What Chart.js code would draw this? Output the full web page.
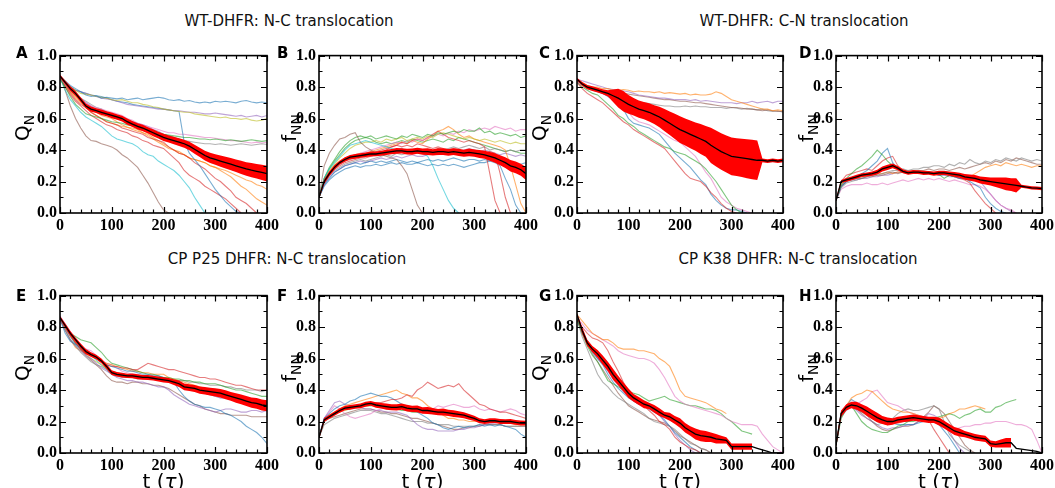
<!DOCTYPE html>
<html>
<head>
<meta charset="utf-8">
<script src="https://cdn.jsdelivr.net/npm/chart.js@4.4.1/dist/chart.umd.min.js"></script>
<style>
  body { margin: 0; background: #fff; width: 1055px; height: 488px; overflow: hidden; position: relative; }
  canvas { position: absolute; }
  .title { position: absolute; font: 15px "DejaVu Sans", sans-serif; color: #111; white-space: nowrap; transform: translateX(-50%); line-height: 1; }
  .letter { position: absolute; font: bold 15px "DejaVu Sans", sans-serif; line-height: 1; }
  .ylab { position: absolute; font: 20px "DejaVu Sans", sans-serif; white-space: nowrap; transform: translate(-50%, -50%) rotate(-90deg); line-height: 1; }
  .ylab sub { font-size: 14px; }
  .xlab { position: absolute; font: 20px "DejaVu Sans", sans-serif; white-space: nowrap; transform: translateX(-50%); line-height: 1; }
</style>
</head>
<body>
<script>
// time grid (tau)
const T = [0,10,20,30,40,50,60,70,80,90,100,110,120,130,140,150,160,170,180,190,200,
  210,220,230,240,250,260,270,280,290,300,310,320,330,340,350,360,370,380,390,400];

const titles = ["WT-DHFR: N-C translocation", "WT-DHFR: C-N translocation",
  "CP P25 DHFR: N-C translocation", "CP K38 DHFR: N-C translocation"];
const xTicks = [0, 100, 200, 300, 400];
const yTicks = [0.0, 0.2, 0.4, 0.6, 0.8, 1.0];

// ---- panel A : Q_N, WT N-C
const meanA = [0.87,0.83,0.79,0.76,0.72,0.68,0.66,0.65,0.64,0.63,0.62,0.61,0.60,0.58,0.565,0.55,0.54,0.525,0.51,0.495,0.48,0.47,0.46,0.45,0.44,0.425,0.405,0.385,0.365,0.35,0.34,0.33,0.32,0.31,0.30,0.29,0.28,0.272,0.265,0.258,0.25];
const errA = [0.01,0.012,0.015,0.015,0.015,0.015,0.016,0.015,0.017,0.016,0.018,0.017,0.018,0.02,0.019,0.02,0.021,0.02,0.022,0.021,0.023,0.022,0.024,0.025,0.026,0.027,0.028,0.03,0.031,0.033,0.034,0.036,0.037,0.039,0.04,0.042,0.043,0.045,0.046,0.048,0.05];
const aBlue1 = [0.87,0.84,0.81,0.79,0.77,0.75,0.74,0.745,0.73,0.735,0.73,0.725,0.73,0.72,0.725,0.73,0.72,0.725,0.73,0.735,0.73,0.72,0.715,0.72,0.71,0.715,0.705,0.70,0.705,0.70,0.71,0.705,0.71,0.705,0.70,0.71,0.715,0.705,0.70,0.705,0.70];
const aOlive = [0.86,0.83,0.80,0.78,0.76,0.755,0.75,0.74,0.735,0.73,0.72,0.715,0.72,0.71,0.70,0.70,0.69,0.685,0.675,0.67,0.66,0.655,0.65,0.645,0.64,0.64,0.63,0.625,0.62,0.615,0.61,0.605,0.61,0.60,0.60,0.595,0.60,0.59,0.585,0.59,0.60];
const aPurple1 = [0.86,0.83,0.80,0.78,0.77,0.76,0.75,0.74,0.73,0.725,0.72,0.71,0.70,0.69,0.685,0.68,0.675,0.67,0.665,0.66,0.66,0.655,0.65,0.65,0.645,0.64,0.64,0.635,0.63,0.63,0.635,0.63,0.625,0.62,0.615,0.62,0.61,0.615,0.62,0.61,0.62];
const aBlue2 = [0.86,0.83,0.80,0.78,0.77,0.76,0.75,0.745,0.74,0.73,0.72,0.71,0.705,0.70,0.69,0.685,0.68,0.675,0.67,0.665,0.66,0.655,0.65,0.645,0.45,0.38,0.34,0.30,0.25,0.20,0.15,0.11,0.07,0.04,0.01,0.0];
const aGreen = [0.85,0.80,0.74,0.69,0.66,0.63,0.62,0.61,0.60,0.59,0.58,0.575,0.57,0.56,0.555,0.55,0.54,0.53,0.52,0.51,0.50,0.495,0.49,0.485,0.48,0.48,0.475,0.47,0.47,0.465,0.47,0.465,0.46,0.465,0.46,0.455,0.46,0.465,0.46,0.455,0.46];
const aPink = [0.86,0.82,0.78,0.75,0.72,0.70,0.68,0.67,0.66,0.65,0.64,0.63,0.62,0.60,0.59,0.57,0.56,0.55,0.54,0.53,0.52,0.51,0.51,0.50,0.50,0.495,0.49,0.485,0.48,0.48,0.475,0.47,0.465,0.46,0.46,0.455,0.45,0.445,0.45,0.445,0.45];
const aGray = [0.86,0.82,0.78,0.75,0.73,0.71,0.69,0.67,0.66,0.64,0.63,0.61,0.60,0.58,0.57,0.56,0.55,0.54,0.52,0.51,0.50,0.49,0.48,0.47,0.46,0.455,0.45,0.445,0.44,0.44,0.435,0.44,0.435,0.43,0.435,0.44,0.435,0.43,0.435,0.44,0.435];
const aPurple2 = [0.86,0.82,0.78,0.75,0.73,0.70,0.68,0.66,0.65,0.64,0.62,0.61,0.60,0.59,0.58,0.57,0.56,0.55,0.53,0.52,0.50,0.49,0.48,0.46,0.45,0.43,0.41,0.39,0.37,0.35,0.33,0.31,0.30,0.28,0.27,0.26,0.25,0.24,0.23,0.22,0.21];
const aCyan = [0.86,0.78,0.72,0.68,0.64,0.61,0.59,0.57,0.55,0.52,0.49,0.47,0.46,0.45,0.44,0.42,0.39,0.37,0.36,0.33,0.31,0.29,0.27,0.24,0.20,0.16,0.10,0.05,0.0];
const aBrown = [0.87,0.78,0.68,0.60,0.54,0.49,0.46,0.455,0.44,0.43,0.42,0.40,0.37,0.35,0.32,0.29,0.24,0.19,0.13,0.07,0.02,0.0];
const aRed1 = [0.86,0.80,0.75,0.71,0.68,0.65,0.62,0.60,0.58,0.56,0.55,0.53,0.52,0.51,0.49,0.48,0.46,0.45,0.43,0.42,0.41,0.38,0.35,0.32,0.27,0.24,0.22,0.20,0.17,0.15,0.13,0.11,0.09,0.06,0.03,0.0];
const aRed2 = [0.86,0.81,0.76,0.72,0.69,0.67,0.64,0.62,0.60,0.58,0.57,0.56,0.54,0.53,0.52,0.51,0.50,0.48,0.47,0.46,0.45,0.42,0.40,0.38,0.37,0.35,0.32,0.30,0.28,0.25,0.22,0.20,0.17,0.14,0.10,0.08,0.06,0.03,0.0];
const aOrange1 = [0.86,0.81,0.77,0.73,0.70,0.67,0.64,0.62,0.60,0.58,0.57,0.56,0.55,0.545,0.54,0.53,0.51,0.49,0.47,0.45,0.43,0.41,0.40,0.39,0.37,0.35,0.34,0.33,0.32,0.30,0.29,0.27,0.25,0.23,0.20,0.17,0.15,0.12,0.09,0.07,0.05];
const aOrange2 = [0.86,0.82,0.77,0.74,0.71,0.68,0.66,0.64,0.62,0.61,0.60,0.58,0.56,0.545,0.53,0.52,0.51,0.50,0.48,0.46,0.44,0.42,0.40,0.38,0.37,0.35,0.34,0.33,0.32,0.30,0.29,0.28,0.27,0.255,0.24,0.225,0.21,0.20,0.18,0.17,0.15];

// ---- panel B : f_NN, WT N-C
const meanB = [0.10,0.20,0.25,0.29,0.32,0.34,0.355,0.36,0.365,0.37,0.375,0.375,0.38,0.385,0.39,0.395,0.395,0.39,0.39,0.395,0.39,0.39,0.385,0.39,0.39,0.385,0.39,0.385,0.38,0.385,0.38,0.375,0.37,0.36,0.35,0.335,0.32,0.30,0.29,0.275,0.25];
const errB = [0.005,0.015,0.015,0.015,0.012,0.014,0.013,0.015,0.014,0.015,0.016,0.015,0.016,0.017,0.016,0.018,0.017,0.018,0.02,0.019,0.02,0.021,0.02,0.022,0.021,0.022,0.021,0.023,0.022,0.024,0.023,0.025,0.026,0.028,0.03,0.032,0.034,0.036,0.037,0.038,0.04];
const bBrown = [0.10,0.30,0.38,0.43,0.47,0.48,0.50,0.51,0.45,0.42,0.40,0.38,0.37,0.36,0.35,0.34,0.30,0.25,0.15,0.05,0.0];
const bCyan = [0.10,0.22,0.28,0.32,0.36,0.40,0.43,0.44,0.45,0.46,0.45,0.44,0.43,0.42,0.41,0.40,0.41,0.39,0.40,0.38,0.38,0.36,0.30,0.22,0.15,0.08,0.03,0.0];
const bGreen = [0.10,0.22,0.29,0.34,0.39,0.43,0.46,0.48,0.49,0.48,0.49,0.47,0.48,0.49,0.48,0.47,0.49,0.48,0.50,0.49,0.48,0.50,0.49,0.51,0.50,0.51,0.52,0.51,0.53,0.52,0.52,0.54,0.51,0.52,0.50,0.51,0.50,0.49,0.50,0.48,0.49];
const bOlive = [0.10,0.21,0.27,0.31,0.35,0.38,0.41,0.43,0.44,0.45,0.45,0.46,0.45,0.47,0.46,0.47,0.48,0.46,0.47,0.48,0.47,0.49,0.48,0.50,0.51,0.50,0.49,0.48,0.47,0.48,0.47,0.46,0.47,0.46,0.45,0.46,0.45,0.44,0.45,0.44,0.44];
const bPink = [0.10,0.20,0.25,0.29,0.32,0.34,0.36,0.37,0.38,0.39,0.40,0.41,0.42,0.43,0.44,0.45,0.44,0.46,0.45,0.47,0.46,0.48,0.49,0.50,0.49,0.51,0.50,0.52,0.51,0.53,0.52,0.53,0.54,0.53,0.55,0.54,0.53,0.54,0.52,0.53,0.53];
const bRed1 = [0.10,0.19,0.24,0.28,0.30,0.32,0.33,0.34,0.35,0.35,0.36,0.37,0.38,0.40,0.42,0.43,0.45,0.44,0.46,0.47,0.46,0.48,0.50,0.52,0.50,0.48,0.47,0.46,0.45,0.46,0.45,0.44,0.42,0.25,0.08,0.0];
const bRed2 = [0.10,0.20,0.25,0.29,0.31,0.33,0.34,0.35,0.36,0.37,0.38,0.39,0.40,0.41,0.42,0.43,0.42,0.43,0.42,0.44,0.43,0.42,0.41,0.42,0.41,0.40,0.41,0.40,0.39,0.40,0.40,0.39,0.38,0.39,0.38,0.25,0.10,0.0];
const bOrange = [0.10,0.20,0.26,0.30,0.33,0.35,0.36,0.37,0.38,0.38,0.39,0.40,0.41,0.42,0.43,0.44,0.45,0.44,0.46,0.45,0.44,0.47,0.49,0.52,0.53,0.55,0.53,0.50,0.48,0.49,0.47,0.46,0.45,0.44,0.43,0.42,0.40,0.30,0.18,0.06,0.0];
const bBlue1 = [0.10,0.18,0.22,0.26,0.28,0.30,0.31,0.32,0.31,0.32,0.33,0.32,0.33,0.32,0.33,0.34,0.33,0.32,0.33,0.32,0.33,0.34,0.33,0.34,0.33,0.34,0.35,0.34,0.33,0.34,0.34,0.33,0.34,0.33,0.32,0.30,0.22,0.15,0.05,0.0];
const bBlue2 = [0.10,0.17,0.21,0.24,0.26,0.28,0.29,0.30,0.29,0.30,0.30,0.31,0.30,0.31,0.32,0.31,0.32,0.31,0.31,0.32,0.31,0.30,0.31,0.30,0.31,0.30,0.31,0.30,0.29,0.30,0.31,0.32,0.32,0.33,0.34,0.33,0.32,0.31,0.30,0.31,0.32];
const bPurple = [0.10,0.18,0.23,0.26,0.28,0.30,0.31,0.32,0.33,0.32,0.33,0.34,0.35,0.34,0.35,0.36,0.35,0.36,0.37,0.36,0.36,0.37,0.38,0.37,0.38,0.39,0.40,0.39,0.40,0.41,0.40,0.39,0.40,0.39,0.38,0.37,0.38,0.37,0.36,0.37,0.36];
const bGray = [0.10,0.19,0.24,0.27,0.29,0.31,0.32,0.33,0.34,0.33,0.34,0.35,0.36,0.37,0.36,0.38,0.37,0.38,0.39,0.38,0.38,0.40,0.39,0.41,0.40,0.41,0.42,0.41,0.42,0.43,0.42,0.41,0.42,0.40,0.41,0.40,0.39,0.40,0.39,0.40,0.40];
const bGreen2 = [0.10,0.22,0.28,0.33,0.37,0.41,0.44,0.46,0.47,0.48,0.47,0.45,0.44,0.45,0.44,0.45,0.46,0.45,0.47,0.46,0.45,0.46,0.47,0.46,0.45,0.47,0.46,0.48,0.47,0.46,0.45,0.44,0.43,0.42,0.41,0.40,0.39,0.40,0.39,0.38,0.38];

// ---- panel C : Q_N, WT C-N
const meanC = [0.85,0.82,0.80,0.79,0.78,0.77,0.76,0.745,0.73,0.71,0.69,0.675,0.66,0.65,0.64,0.625,0.61,0.59,0.57,0.55,0.53,0.515,0.50,0.485,0.47,0.455,0.43,0.41,0.39,0.375,0.36,0.355,0.35,0.345,0.34,0.335,0.335,0.33,0.335,0.33,0.335];
const errC = [0.01,0.012,0.014,0.015,0.015,0.016,0.02,0.04,0.06,0.065,0.06,0.055,0.055,0.055,0.058,0.06,0.065,0.07,0.075,0.08,0.085,0.086,0.088,0.09,0.095,0.098,0.112,0.114,0.116,0.118,0.12,0.12,0.122,0.124,0.125,0.125,0.012,0.012,0.012,0.012,0.012];
const cOrange = [0.85,0.83,0.81,0.80,0.80,0.79,0.79,0.78,0.78,0.785,0.78,0.77,0.775,0.77,0.77,0.765,0.77,0.76,0.765,0.76,0.755,0.76,0.75,0.755,0.75,0.75,0.755,0.77,0.76,0.74,0.72,0.71,0.70,0.69,0.68,0.67,0.66,0.66,0.65,0.655,0.65];
const cPurple = [0.85,0.84,0.83,0.82,0.81,0.80,0.79,0.785,0.78,0.775,0.77,0.76,0.75,0.745,0.74,0.735,0.73,0.73,0.725,0.72,0.72,0.72,0.715,0.72,0.71,0.715,0.71,0.705,0.70,0.70,0.70,0.695,0.70,0.70,0.71,0.70,0.705,0.71,0.70,0.71,0.71];
const cBrown = [0.84,0.82,0.80,0.79,0.78,0.77,0.77,0.765,0.76,0.76,0.755,0.75,0.745,0.74,0.735,0.73,0.725,0.72,0.72,0.715,0.71,0.71,0.705,0.70,0.70,0.695,0.69,0.685,0.68,0.675,0.67,0.67,0.665,0.66,0.66,0.655,0.65,0.655,0.65,0.645,0.645];
const cGray = [0.83,0.81,0.79,0.78,0.77,0.76,0.75,0.74,0.74,0.73,0.72,0.71,0.70,0.70,0.695,0.69,0.685,0.68,0.68,0.675,0.675,0.68,0.675,0.68,0.675,0.675,0.67,0.67,0.67,0.665,0.67,0.665,0.66,0.665,0.66,0.655,0.66,0.65,0.645,0.65,0.64];
const cRed = [0.83,0.79,0.76,0.74,0.72,0.70,0.67,0.64,0.61,0.58,0.56,0.53,0.51,0.49,0.47,0.45,0.43,0.41,0.37,0.33,0.29,0.25,0.22,0.21,0.20,0.17,0.13,0.10,0.06,0.03,0.01,0.0];
const cGreen = [0.83,0.80,0.78,0.76,0.75,0.72,0.69,0.66,0.62,0.60,0.57,0.55,0.52,0.50,0.48,0.46,0.44,0.42,0.41,0.39,0.38,0.37,0.35,0.33,0.31,0.28,0.24,0.20,0.15,0.10,0.05,0.02,0.0];
const cBlue = [0.84,0.82,0.80,0.79,0.78,0.76,0.74,0.72,0.70,0.66,0.60,0.57,0.56,0.55,0.54,0.52,0.50,0.46,0.42,0.38,0.35,0.32,0.29,0.25,0.21,0.18,0.12,0.08,0.05,0.03,0.02,0.02,0.01,0.0];
const cPink = [0.84,0.82,0.80,0.79,0.78,0.77,0.76,0.74,0.72,0.69,0.64,0.60,0.58,0.57,0.56,0.54,0.52,0.50,0.48,0.46,0.45,0.42,0.39,0.36,0.31,0.26,0.22,0.16,0.10,0.07,0.05,0.03,0.02,0.01,0.0];

// ---- panel D : f_NN, WT C-N
const meanD = [0.08,0.20,0.21,0.22,0.23,0.24,0.245,0.25,0.26,0.28,0.29,0.30,0.285,0.265,0.255,0.26,0.26,0.255,0.255,0.25,0.255,0.255,0.25,0.245,0.24,0.23,0.225,0.22,0.21,0.205,0.20,0.195,0.19,0.185,0.18,0.175,0.17,0.165,0.16,0.158,0.155];
const errD = [0.005,0.01,0.012,0.012,0.013,0.012,0.013,0.014,0.015,0.016,0.017,0.015,0.014,0.013,0.012,0.013,0.012,0.013,0.012,0.013,0.014,0.013,0.014,0.015,0.016,0.018,0.02,0.022,0.022,0.024,0.025,0.03,0.035,0.04,0.04,0.045,0.01,0.01,0.01,0.01,0.01];
const dGreen = [0.08,0.18,0.22,0.25,0.28,0.30,0.33,0.36,0.40,0.37,0.33,0.30,0.28,0.27,0.26,0.265,0.26,0.255,0.26,0.25,0.245,0.22,0.24,0.23,0.24,0.22,0.21];
const dBlue = [0.08,0.17,0.20,0.22,0.23,0.25,0.27,0.30,0.33,0.38,0.41,0.32,0.28,0.27,0.26,0.265,0.26,0.25,0.255,0.25,0.24,0.245,0.24,0.23,0.22,0.22,0.20,0.18,0.16,0.10,0.06,0.03,0.01,0.0];
const dRed = [0.08,0.20,0.24,0.25,0.26,0.27,0.28,0.27,0.30,0.33,0.35,0.36,0.30,0.27,0.26,0.27,0.26,0.25,0.26,0.25,0.24,0.25,0.24,0.23,0.22,0.21,0.19,0.14,0.10,0.06,0.03,0.0];
const dGray = [0.08,0.16,0.19,0.20,0.21,0.22,0.23,0.24,0.24,0.25,0.26,0.27,0.27,0.28,0.27,0.28,0.28,0.29,0.29,0.30,0.30,0.29,0.31,0.30,0.32,0.31,0.34,0.32,0.31,0.33,0.32,0.34,0.33,0.35,0.34,0.33,0.35,0.34,0.33,0.34,0.33];
const dBrown = [0.08,0.17,0.20,0.21,0.22,0.22,0.23,0.23,0.24,0.24,0.25,0.26,0.25,0.26,0.27,0.26,0.27,0.27,0.28,0.27,0.28,0.28,0.27,0.28,0.29,0.28,0.29,0.30,0.31,0.32,0.31,0.33,0.32,0.34,0.33,0.35,0.34,0.33,0.32,0.31,0.31];
const dOrange = [0.08,0.18,0.21,0.22,0.23,0.23,0.24,0.24,0.25,0.25,0.26,0.25,0.26,0.26,0.25,0.26,0.26,0.25,0.26,0.25,0.26,0.25,0.24,0.25,0.24,0.24,0.23,0.25,0.27,0.29,0.30,0.31,0.30,0.32,0.31,0.30,0.31,0.30,0.29,0.30,0.30];
const dPink = [0.08,0.15,0.17,0.18,0.18,0.18,0.19,0.18,0.18,0.19,0.18,0.19,0.20,0.21,0.20,0.21,0.22,0.21,0.22,0.21,0.22,0.21,0.20,0.21,0.20,0.19,0.18,0.18,0.17,0.15,0.12,0.08,0.05,0.03,0.02,0.0];
const dPurple = [0.08,0.17,0.20,0.21,0.21,0.22,0.22,0.23,0.23,0.24,0.24,0.25,0.26,0.26,0.25,0.26,0.25,0.26,0.25,0.25,0.24,0.24,0.23,0.23,0.22,0.22,0.21,0.21,0.20,0.16,0.12,0.08,0.05,0.03,0.01,0.0];

// ---- panel E : Q_N, CP P25
const meanE = [0.86,0.81,0.76,0.72,0.68,0.645,0.625,0.61,0.585,0.55,0.51,0.50,0.495,0.49,0.49,0.485,0.48,0.48,0.475,0.47,0.465,0.46,0.45,0.44,0.42,0.415,0.41,0.40,0.395,0.39,0.385,0.38,0.37,0.36,0.35,0.34,0.33,0.32,0.315,0.305,0.30];
const errE = [0.01,0.015,0.015,0.014,0.015,0.016,0.015,0.014,0.015,0.016,0.015,0.014,0.015,0.014,0.015,0.016,0.015,0.016,0.015,0.016,0.017,0.016,0.018,0.02,0.022,0.021,0.022,0.023,0.024,0.025,0.026,0.027,0.028,0.028,0.03,0.031,0.032,0.033,0.034,0.035,0.035];
const eBlue = [0.85,0.76,0.71,0.69,0.67,0.65,0.62,0.60,0.58,0.56,0.55,0.54,0.53,0.52,0.52,0.51,0.50,0.50,0.49,0.49,0.48,0.47,0.45,0.40,0.36,0.33,0.31,0.30,0.29,0.29,0.28,0.27,0.25,0.24,0.22,0.20,0.17,0.15,0.13,0.10,0.06];
const eRed = [0.86,0.80,0.75,0.70,0.66,0.63,0.62,0.60,0.58,0.56,0.55,0.55,0.54,0.54,0.53,0.53,0.55,0.57,0.56,0.55,0.54,0.53,0.53,0.52,0.51,0.50,0.49,0.48,0.48,0.47,0.47,0.46,0.45,0.44,0.43,0.43,0.42,0.41,0.40,0.40,0.40];
const eGreen = [0.86,0.80,0.76,0.74,0.72,0.71,0.70,0.67,0.64,0.60,0.57,0.56,0.55,0.54,0.53,0.52,0.51,0.50,0.50,0.49,0.48,0.48,0.47,0.47,0.46,0.46,0.45,0.45,0.44,0.44,0.44,0.43,0.42,0.41,0.40,0.40,0.39,0.38,0.37,0.36,0.36];
const eGray = [0.86,0.78,0.72,0.68,0.64,0.61,0.58,0.56,0.55,0.53,0.50,0.49,0.48,0.48,0.48,0.47,0.47,0.47,0.47,0.47,0.47,0.46,0.46,0.46,0.46,0.45,0.45,0.44,0.44,0.43,0.43,0.43,0.42,0.42,0.41,0.41,0.40,0.40,0.40,0.39,0.40];
const ePurple = [0.85,0.78,0.72,0.68,0.65,0.62,0.60,0.57,0.54,0.52,0.50,0.48,0.47,0.46,0.46,0.45,0.45,0.44,0.43,0.42,0.42,0.40,0.37,0.35,0.33,0.31,0.30,0.29,0.28,0.27,0.26,0.27,0.28,0.28,0.27,0.26,0.26,0.27,0.27,0.26,0.27];
const eBrown = [0.85,0.79,0.74,0.70,0.66,0.62,0.59,0.56,0.53,0.49,0.46,0.45,0.45,0.44,0.45,0.45,0.44,0.44,0.43,0.43,0.42,0.41,0.39,0.37,0.35,0.33,0.31,0.30,0.28,0.27,0.26,0.25,0.25,0.24,0.24,0.24,0.24,0.23,0.23,0.23,0.23];
const eOrange = [0.85,0.78,0.72,0.67,0.65,0.63,0.62,0.60,0.58,0.57,0.56,0.55,0.54,0.53,0.52,0.52,0.51,0.51,0.50,0.50,0.50,0.48,0.47,0.46,0.45,0.44,0.43,0.42,0.41,0.40,0.40,0.39,0.38,0.37,0.37,0.36,0.35,0.34,0.33,0.32,0.31];
const ePink = [0.87,0.82,0.77,0.72,0.68,0.66,0.65,0.62,0.59,0.57,0.56,0.54,0.52,0.51,0.50,0.50,0.49,0.48,0.48,0.47,0.47,0.46,0.45,0.43,0.42,0.41,0.40,0.39,0.38,0.37,0.36,0.35,0.35,0.34,0.34,0.33,0.32,0.32,0.31,0.30,0.30];
const eOlive = [0.86,0.81,0.75,0.70,0.66,0.63,0.60,0.58,0.56,0.54,0.52,0.51,0.50,0.50,0.49,0.49,0.49,0.48,0.48,0.48,0.48,0.47,0.45,0.43,0.42,0.41,0.40,0.40,0.39,0.39,0.39,0.38,0.37,0.36,0.35,0.34,0.33,0.32,0.31,0.30,0.30];
const eCyan = [0.86,0.80,0.74,0.69,0.66,0.64,0.62,0.59,0.56,0.53,0.50,0.49,0.49,0.48,0.48,0.48,0.48,0.47,0.47,0.47,0.46,0.46,0.45,0.44,0.42,0.41,0.40,0.39,0.38,0.37,0.36,0.35,0.35,0.34,0.33,0.32,0.31,0.30,0.29,0.28,0.28];

// ---- panel F : f_NN, CP P25
const meanF = [0.10,0.21,0.23,0.25,0.27,0.285,0.29,0.295,0.30,0.31,0.315,0.305,0.30,0.295,0.29,0.29,0.295,0.285,0.28,0.28,0.27,0.27,0.265,0.26,0.26,0.255,0.25,0.245,0.24,0.23,0.22,0.205,0.20,0.205,0.205,0.20,0.20,0.20,0.195,0.19,0.19];
const errF = [0.005,0.012,0.013,0.014,0.015,0.014,0.015,0.014,0.015,0.016,0.015,0.017,0.018,0.02,0.019,0.02,0.02,0.021,0.02,0.021,0.02,0.022,0.021,0.02,0.022,0.02,0.021,0.02,0.019,0.018,0.017,0.016,0.015,0.016,0.015,0.016,0.015,0.016,0.015,0.016,0.015];
const fRed = [0.10,0.20,0.23,0.25,0.26,0.28,0.29,0.29,0.30,0.30,0.31,0.32,0.32,0.33,0.34,0.34,0.35,0.37,0.36,0.40,0.42,0.45,0.43,0.41,0.42,0.43,0.42,0.44,0.40,0.37,0.34,0.31,0.30,0.28,0.27,0.26,0.26,0.25,0.24,0.23,0.22];
const fBlue = [0.10,0.22,0.25,0.28,0.30,0.31,0.33,0.34,0.36,0.37,0.38,0.37,0.36,0.36,0.35,0.33,0.31,0.29,0.28,0.26,0.24,0.22,0.19,0.18,0.16,0.15,0.16,0.17,0.16,0.17,0.17,0.18,0.17,0.18,0.17,0.18,0.17,0.16,0.15,0.12,0.10];
const fOrange = [0.10,0.21,0.24,0.26,0.28,0.30,0.31,0.32,0.33,0.34,0.35,0.36,0.37,0.38,0.39,0.40,0.38,0.37,0.35,0.35,0.33,0.30,0.28,0.26,0.24,0.22,0.22,0.21,0.21,0.20,0.20,0.21,0.20,0.21,0.20,0.20,0.19,0.19,0.18,0.18,0.18];
const fPink = [0.10,0.22,0.26,0.30,0.28,0.25,0.23,0.22,0.23,0.24,0.25,0.27,0.28,0.29,0.30,0.29,0.30,0.28,0.27,0.28,0.28,0.29,0.28,0.30,0.29,0.30,0.31,0.30,0.29,0.29,0.30,0.28,0.27,0.28,0.27,0.26,0.27,0.28,0.27,0.25,0.24];
const fPurple = [0.10,0.22,0.27,0.32,0.33,0.31,0.30,0.30,0.29,0.28,0.28,0.27,0.27,0.26,0.26,0.26,0.25,0.24,0.21,0.18,0.16,0.15,0.15,0.14,0.14,0.14,0.14,0.15,0.15,0.16,0.16,0.17,0.18,0.19,0.19,0.20,0.20,0.20,0.19,0.20,0.20];
const fGray = [0.10,0.18,0.20,0.22,0.23,0.24,0.25,0.26,0.27,0.27,0.27,0.26,0.25,0.25,0.24,0.23,0.22,0.21,0.20,0.20,0.20,0.19,0.19,0.18,0.18,0.18,0.17,0.17,0.17,0.17,0.17,0.18,0.18,0.18,0.18,0.18,0.17,0.17,0.17,0.17,0.17];
const fBrown = [0.10,0.20,0.22,0.23,0.24,0.25,0.26,0.27,0.28,0.28,0.28,0.27,0.26,0.26,0.25,0.25,0.24,0.23,0.22,0.22,0.21,0.20,0.19,0.18,0.17,0.16,0.15,0.15,0.16,0.16,0.17,0.17,0.18,0.18,0.18,0.18,0.17,0.17,0.17,0.17,0.17];
const fGreen = [0.10,0.21,0.23,0.25,0.27,0.28,0.29,0.29,0.30,0.30,0.30,0.30,0.29,0.29,0.28,0.28,0.27,0.27,0.26,0.26,0.26,0.26,0.25,0.25,0.25,0.25,0.24,0.24,0.23,0.22,0.22,0.21,0.21,0.20,0.20,0.20,0.19,0.19,0.19,0.19,0.19];
const fOlive = [0.10,0.21,0.24,0.25,0.26,0.27,0.28,0.29,0.30,0.30,0.30,0.31,0.30,0.30,0.30,0.30,0.29,0.29,0.28,0.28,0.28,0.27,0.27,0.26,0.26,0.26,0.25,0.24,0.23,0.22,0.22,0.21,0.20,0.20,0.20,0.19,0.19,0.19,0.19,0.18,0.19];

// ---- panel G : Q_N, CP K38
const meanG = [0.88,0.78,0.70,0.66,0.63,0.59,0.55,0.50,0.46,0.42,0.38,0.35,0.33,0.31,0.30,0.28,0.26,0.24,0.23,0.21,0.19,0.16,0.14,0.12,0.11,0.105,0.10,0.09,0.085,0.08,0.04,0.04,0.04,0.04,0.04,0.03,0.02,0.01,0.0,0.0,0.0];
const errG = [0.01,0.02,0.02,0.02,0.025,0.03,0.03,0.035,0.03,0.03,0.03,0.025,0.025,0.025,0.02,0.025,0.025,0.02,0.025,0.025,0.03,0.03,0.03,0.035,0.035,0.035,0.03,0.03,0.025,0.02,0.02,0.02,0.02,0.02,0.02,null,null,null,null,null,null];
const gOrange = [0.88,0.84,0.80,0.76,0.74,0.72,0.72,0.70,0.67,0.66,0.66,0.66,0.65,0.65,0.64,0.63,0.60,0.58,0.55,0.48,0.40,0.36,0.35,0.34,0.33,0.32,0.30,0.28,0.27,0.25];
const gPink = [0.86,0.82,0.78,0.76,0.74,0.72,0.70,0.68,0.65,0.63,0.62,0.61,0.60,0.60,0.59,0.57,0.53,0.48,0.42,0.36,0.33,0.31,0.30,0.29,0.28,0.27,0.26,0.25,0.24,0.22,0.20,0.19,0.18,0.18,0.18,0.17,0.12,0.08,0.04,0.02,0.0];
const gGreen = [0.85,0.76,0.68,0.62,0.58,0.52,0.46,0.44,0.42,0.40,0.39,0.38,0.37,0.35,0.33,0.34,0.35,0.36,0.34,0.33,0.32,0.31,0.30,0.30,0.29,0.28,0.28,0.27,0.25,0.22,0.20,0.17,0.14,0.13,0.12];
const gRed = [0.85,0.80,0.76,0.73,0.72,0.70,0.65,0.58,0.52,0.45,0.39,0.35,0.32,0.30,0.27,0.24,0.20,0.18,0.15,0.10,0.07,0.05,0.03,0.02,0.0];
const gGray = [0.85,0.74,0.66,0.58,0.50,0.45,0.42,0.38,0.35,0.33,0.31,0.29,0.27,0.25,0.22,0.20,0.19,0.18,0.17,0.15,0.12,0.09,0.06,0.05,0.03,0.02,0.0];
const gBlue = [0.85,0.78,0.70,0.64,0.60,0.56,0.50,0.45,0.41,0.38,0.35,0.33,0.31,0.30,0.28,0.26,0.24,0.21,0.17,0.13,0.10,0.07,0.04,0.02,0.0];
const gPurple = [0.85,0.76,0.69,0.65,0.60,0.57,0.52,0.47,0.43,0.39,0.36,0.33,0.31,0.30,0.29,0.27,0.24,0.20,0.17,0.12,0.08,0.05,0.02,0.0];
const gBrown = [0.85,0.77,0.70,0.63,0.58,0.53,0.48,0.43,0.38,0.34,0.30,0.28,0.26,0.24,0.22,0.21,0.20,0.19,0.17,0.14,0.11,0.09,0.07,0.05,0.03,0.02,0.0];

// ---- panel H : f_NN, CP K38
const meanH = [0.05,0.25,0.29,0.305,0.30,0.285,0.265,0.245,0.225,0.21,0.20,0.20,0.21,0.215,0.22,0.225,0.22,0.215,0.21,0.21,0.20,0.18,0.16,0.14,0.13,0.12,0.11,0.10,0.095,0.09,0.06,0.055,0.06,0.065,0.065,0.03,0.025,0.02,0.015,0.01,0.0];
const errH = [0.01,0.02,0.02,0.02,0.025,0.025,0.03,0.03,0.03,0.025,0.025,0.02,0.02,0.02,0.02,0.02,0.02,0.02,0.02,0.02,0.025,0.025,0.025,0.025,0.025,0.02,0.02,0.02,0.02,0.02,0.02,0.02,0.025,0.03,0.03,null,null,null,null,null,null];
const hOrange = [0.05,0.25,0.30,0.35,0.37,0.38,0.40,0.39,0.36,0.33,0.30,0.28,0.27,0.26,0.26,0.25,0.24,0.23,0.22,0.22,0.22,0.23,0.25,0.26,0.28,0.28,0.29,0.30,0.29,0.28];
const hPink = [0.05,0.24,0.28,0.30,0.31,0.33,0.35,0.39,0.40,0.36,0.32,0.31,0.30,0.28,0.26,0.25,0.24,0.23,0.22,0.21,0.20,0.18,0.16,0.15,0.16,0.17,0.17,0.18,0.18,0.19,0.19,0.20,0.20,0.20,0.19,0.18,0.18,0.17,0.15,0.08,0.0];
const hGreen = [0.05,0.22,0.28,0.30,0.25,0.20,0.17,0.15,0.14,0.13,0.13,0.15,0.17,0.18,0.20,0.20,0.21,0.21,0.22,0.22,0.23,0.24,0.25,0.24,0.22,0.24,0.25,0.27,0.28,0.26,0.26,0.29,0.30,0.32,0.33,0.34];
const hGray = [0.05,0.24,0.29,0.31,0.28,0.26,0.24,0.20,0.18,0.19,0.20,0.22,0.25,0.27,0.28,0.27,0.27,0.28,0.29,0.30,0.28,0.20,0.12,0.08,0.05,0.03,0.01,0.0];
const hBlue = [0.05,0.26,0.30,0.34,0.32,0.30,0.28,0.25,0.23,0.21,0.20,0.19,0.18,0.18,0.18,0.18,0.19,0.20,0.21,0.20,0.18,0.14,0.10,0.05,0.0];
const hRed = [0.05,0.25,0.29,0.31,0.28,0.26,0.25,0.22,0.20,0.19,0.18,0.19,0.19,0.20,0.20,0.21,0.21,0.22,0.21,0.15,0.10,0.05,0.0];
const hPurple = [0.05,0.23,0.27,0.30,0.27,0.24,0.22,0.20,0.18,0.16,0.15,0.16,0.16,0.17,0.18,0.18,0.20,0.22,0.25,0.24,0.22,0.20,0.14,0.08,0.03,0.0];
const hBrown = [0.05,0.25,0.30,0.32,0.28,0.25,0.22,0.20,0.17,0.15,0.14,0.15,0.16,0.17,0.17,0.18,0.20,0.23,0.26,0.30,0.28,0.25,0.20,0.15,0.10,0.05,0.02,0.0];

// tab10-ish colours, a bit transparent like the original
const COL = {
  blue: "31,119,180", orange: "255,127,14", green: "44,160,44", red: "214,39,40",
  purple: "148,103,189", brown: "140,86,75", pink: "227,119,194", gray: "127,127,127",
  olive: "188,189,34", cyan: "23,190,207"
};

const panels = [
  { id: "A", row: 0, col: 0, ylab: "Q", sub: "N", mean: meanA, err: errA,
    lines: [[aBlue1,"blue"],[aOlive,"olive"],[aPurple1,"purple"],[aBlue2,"blue"],[aGreen,"green"],[aPink,"pink"],[aGray,"gray"],
            [aPurple2,"purple"],[aCyan,"cyan"],[aBrown,"brown"],[aRed1,"red"],[aRed2,"red"],[aOrange1,"orange"],[aOrange2,"orange"]] },
  { id: "B", row: 0, col: 1, ylab: "f", sub: "NN", mean: meanB, err: errB,
    lines: [[bBrown,"brown"],[bCyan,"cyan"],[bGreen,"green"],[bOlive,"olive"],[bPink,"pink"],[bRed1,"red"],[bRed2,"red"],
            [bOrange,"orange"],[bBlue1,"blue"],[bBlue2,"blue"],[bPurple,"purple"],[bGray,"gray"],[bGreen2,"green"]] },
  { id: "C", row: 0, col: 2, ylab: "Q", sub: "N", mean: meanC, err: errC,
    lines: [[cOrange,"orange"],[cPurple,"purple"],[cBrown,"brown"],[cGray,"gray"],[cRed,"red"],[cGreen,"green"],[cBlue,"blue"],[cPink,"pink"]] },
  { id: "D", row: 0, col: 3, ylab: "f", sub: "NN", mean: meanD, err: errD,
    lines: [[dGreen,"green"],[dBlue,"blue"],[dRed,"red"],[dGray,"gray"],[dBrown,"brown"],[dOrange,"orange"],[dPink,"pink"],[dPurple,"purple"]] },
  { id: "E", row: 1, col: 0, ylab: "Q", sub: "N", mean: meanE, err: errE,
    lines: [[eBlue,"blue"],[eRed,"red"],[eGreen,"green"],[eGray,"gray"],[ePurple,"purple"],[eBrown,"brown"],[eOrange,"orange"],
            [ePink,"pink"],[eOlive,"olive"],[eCyan,"cyan"]] },
  { id: "F", row: 1, col: 1, ylab: "f", sub: "NN", mean: meanF, err: errF,
    lines: [[fRed,"red"],[fBlue,"blue"],[fOrange,"orange"],[fPink,"pink"],[fPurple,"purple"],[fGray,"gray"],[fBrown,"brown"],
            [fGreen,"green"],[fOlive,"olive"]] },
  { id: "G", row: 1, col: 2, ylab: "Q", sub: "N", mean: meanG, err: errG,
    lines: [[gOrange,"orange"],[gPink,"pink"],[gGreen,"green"],[gRed,"red"],[gGray,"gray"],[gBlue,"blue"],[gPurple,"purple"],[gBrown,"brown"]] },
  { id: "H", row: 1, col: 3, ylab: "f", sub: "NN", mean: meanH, err: errH,
    lines: [[hOrange,"orange"],[hPink,"pink"],[hGreen,"green"],[hGray,"gray"],[hBlue,"blue"],[hRed,"red"],[hPurple,"purple"],[hBrown,"brown"]] }
];

// plot area positions on the page
const plotLeft = [60, 319, 577, 836];
const plotRight = [267, 526, 783, 1042];
const plotTop = [55, 295];
const plotBottom = [213, 453];
const letterX = [16, 277, 539, 799];
const letterY = [46, 289];
const titleX = [289, 804, 287, 798];
const titleY = [14, 14, 252, 252];

const PADL = 48, PADT = 12, PADR = 16, PADB = 28;

function pts(vals) {
  return vals.map((v, i) => ({ x: T[i], y: v }));
}

// frame + inward ticks on all four sides
const framePlugin = {
  id: "frame",
  afterDatasetsDraw(chart) {
    const { ctx, chartArea: a, scales } = chart;
    ctx.save();
    ctx.strokeStyle = "#000";
    ctx.lineWidth = 1.2;
    ctx.beginPath();
    for (let v = 0; v <= 400; v += 20) {
      const x = Math.round(scales.x.getPixelForValue(v)) + 0.5;
      const len = v % 100 === 0 ? 6 : 3.5;
      ctx.moveTo(x, a.bottom); ctx.lineTo(x, a.bottom - len);
      ctx.moveTo(x, a.top); ctx.lineTo(x, a.top + len);
    }
    for (let k = 0; k <= 10; k++) {
      const y = Math.round(scales.y.getPixelForValue(k / 10)) + 0.5;
      const len = k % 2 === 0 ? 6 : 3.5;
      ctx.moveTo(a.left, y); ctx.lineTo(a.left + len, y);
      ctx.moveTo(a.right, y); ctx.lineTo(a.right - len, y);
    }
    ctx.stroke();
    ctx.lineWidth = 1.6;
    ctx.strokeRect(a.left, a.top, a.right - a.left, a.bottom - a.top);
    ctx.restore();
  }
};

function addDiv(cls, html, left, top) {
  const d = document.createElement("div");
  d.className = cls;
  d.innerHTML = html;
  d.style.left = left + "px";
  d.style.top = top + "px";
  document.body.appendChild(d);
}

titles.forEach((t, i) => addDiv("title", t, titleX[i], titleY[i]));

panels.forEach(p => {
  const L = plotLeft[p.col], R = plotRight[p.col];
  const Tp = plotTop[p.row], B = plotBottom[p.row];

  const cv = document.createElement("canvas");
  const w = R - L + PADL + PADR, h = B - Tp + PADT + PADB;
  cv.width = w; cv.height = h;
  cv.style.left = (L - PADL) + "px";
  cv.style.top = (Tp - PADT) + "px";
  cv.style.width = w + "px"; cv.style.height = h + "px";
  document.body.appendChild(cv);

  const upper = p.mean.map((m, i) => p.err[i] == null ? null : m + p.err[i]);
  const lower = p.mean.map((m, i) => p.err[i] == null ? null : m - p.err[i]);

  const datasets = [
    { data: pts(upper), fill: "+1", backgroundColor: "#ff0000", borderWidth: 0, pointRadius: 0, order: 1, spanGaps: false },
    { data: pts(lower), fill: false, borderWidth: 0, pointRadius: 0, order: 1, spanGaps: false },
    { data: pts(p.mean), fill: false, borderColor: "#000", borderWidth: 1.3, pointRadius: 0, order: 0 }
  ];
  p.lines.forEach(([vals, c]) => {
    datasets.push({ data: pts(vals), fill: false, borderColor: `rgba(${COL[c]},0.6)`,
      borderWidth: 1.1, pointRadius: 0, order: 2 });
  });

  const tickFont = { family: "Liberation Serif, Times New Roman, serif", weight: "bold", size: 16 };

  new Chart(cv, {
    type: "line",
    data: { datasets },
    options: {
      responsive: false,
      animation: false,
      devicePixelRatio: 1,
      layout: { padding: { left: 0, top: PADT, right: PADR, bottom: 0 } },
      plugins: { legend: { display: false }, tooltip: { enabled: false } },
      elements: { line: { tension: 0 } },
      scales: {
        x: {
          type: "linear", min: 0, max: 400,
          afterFit: s => { s.height = PADB; },
          afterBuildTicks: s => { s.ticks = xTicks.map(v => ({ value: v })); },
          grid: { display: false, drawTicks: false },
          border: { display: false },
          ticks: { color: "#000", font: tickFont, padding: 3, maxRotation: 0, autoSkip: false,
            callback: v => String(v) }
        },
        y: {
          min: 0, max: 1,
          afterFit: s => { s.width = PADL; },
          afterBuildTicks: s => { s.ticks = yTicks.map(v => ({ value: v })); },
          grid: { display: false, drawTicks: false },
          border: { display: false },
          ticks: { color: "#000", font: tickFont, padding: 3, autoSkip: false,
            callback: v => Number(v).toFixed(1) }
        }
      }
    },
    plugins: [framePlugin]
  });

  // panel letter, y label, x label
  addDiv("letter", p.id, letterX[p.col], letterY[p.row]);
  const yOff = p.ylab === "Q" ? 36 : 28;
  addDiv("ylab", `${p.ylab}<sub>${p.sub}</sub>`, L - yOff, (Tp + B) / 2 - 6);
  if (p.row === 1) addDiv("xlab", "t (<i>τ</i>)", (L + R) / 2, 471);
});
</script>
</body>
</html>
